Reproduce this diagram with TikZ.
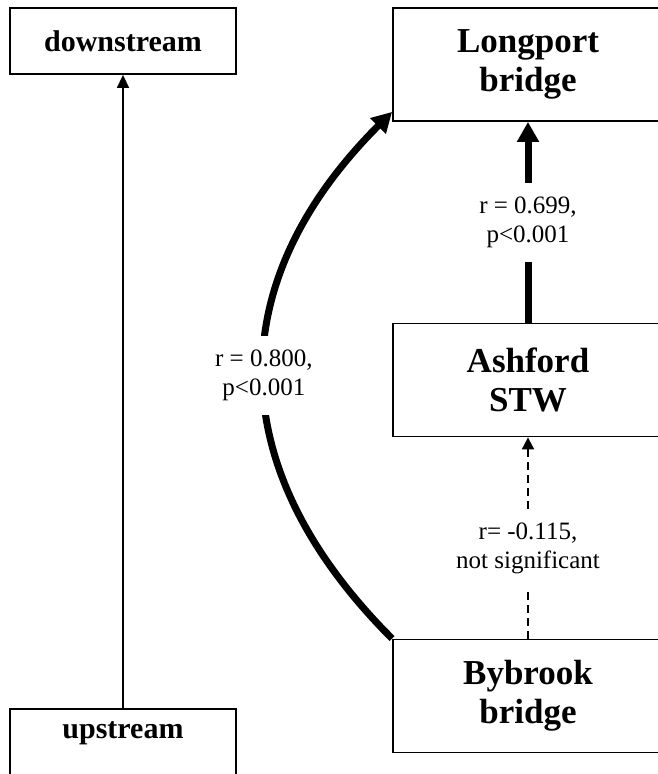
\documentclass[tikz,border=0pt]{standalone}
\usepackage{fontspec}
\setmainfont{Liberation Serif}
\usetikzlibrary{arrows.meta}

\tikzset{
  box/.style={draw,line width=1.8pt,align=center,inner sep=0pt,font=\fontsize{35}{39}\selectfont\bfseries},
  smallbox/.style={box,minimum width=226pt,font=\fontsize{30}{34}\selectfont\bfseries},
  bigbox/.style={box,minimum width=270pt,minimum height=113pt},
  lbl/.style={fill=white,align=center,inner sep=14pt,font=\fontsize{25}{29}\selectfont},
  thin/.style={line width=1.5pt,-{Triangle[length=13pt,width=12pt]}},
  thick/.style={line width=7pt,-{Triangle[length=20pt,width=21pt]}},
}

\begin{document}
\begin{tikzpicture}[x=1pt,y=-1pt]
\clip (0,0) rectangle (658,774);

\node[smallbox,minimum height=66pt] (down) at (123,41) {downstream};
\node[smallbox,text height=30pt,text depth=40pt,anchor=north] (up) at (123,708) {upstream};

\node[bigbox] (long) at (528,64.5) {Longport\\bridge};
\node[bigbox] (ash) at (528,380) {Ashford\\STW};
\node[bigbox] (by) at (528,696) {Bybrook\\bridge};

\draw[thin] (up) -- (down);

\draw[thick] (ash) -- node[lbl]{r = 0.699,\\p<0.001} (long);

\draw[line width=2pt,dash pattern=on 8pt off 5pt,-{Triangle[length=12pt,width=12pt]}]
  (by) -- node[lbl,pos=0.45]{r= -0.115,\\not significant} (ash);

\draw[thick] (by.north west) .. controls +(-171,-171) and +(-171,171) ..
  node[lbl]{r = 0.800,\\p<0.001} ([yshift=10pt]long.south west);

\end{tikzpicture}
\end{document}
